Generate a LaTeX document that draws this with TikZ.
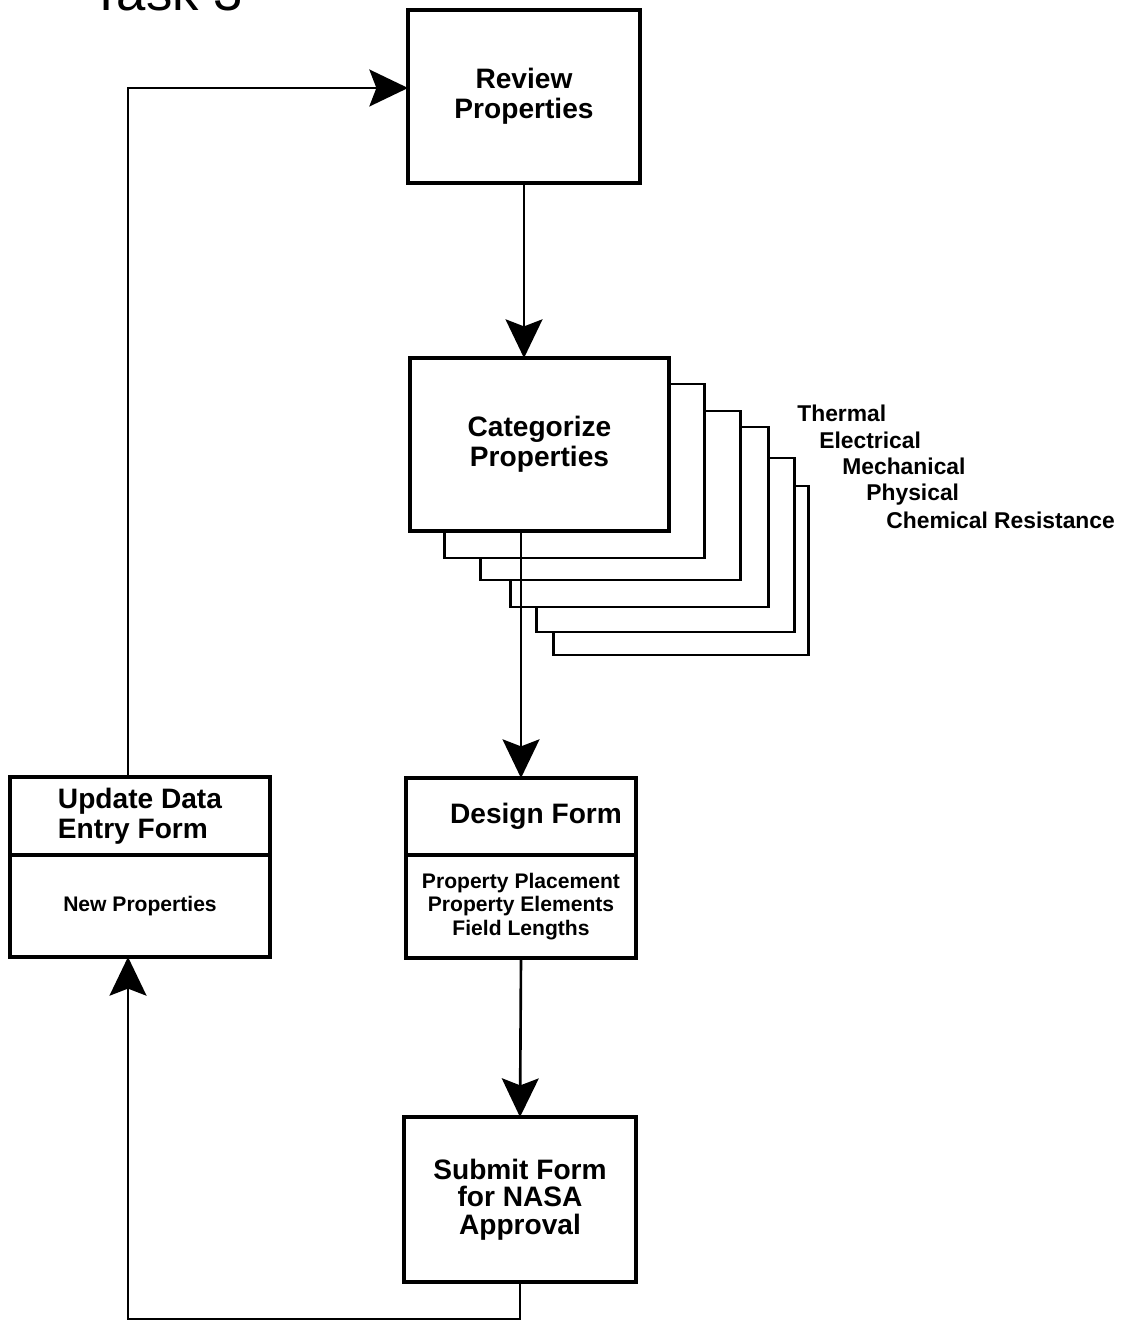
\documentclass[tikz,border=0pt]{standalone}
\usepackage{fontspec}
\setmainfont{Liberation Sans}
\usetikzlibrary{arrows.meta,positioning}

\tikzset{
    box/.style={draw, line width=2pt, fill=white, align=center, inner sep=0pt, outer sep=0pt, font=\bfseries\fontsize{16}{17}\selectfont},
    small/.style={font=\bfseries\fontsize{12}{13.6}\selectfont},
    flow/.style={line width=1.5pt, -{Stealth[length=22pt,width=21pt,inset=4pt]}},
    tag/.style={anchor=base west, inner sep=0pt, font=\bfseries\fontsize{13}{14}\selectfont},
    sheet/.style={line width=1.7pt, fill=white}
}

\begin{document}
\begin{tikzpicture}[x=0.02cm,y=-0.02cm]

                    \useasboundingbox (0,0) rectangle (1142,1327);

                    \node[anchor=base west, inner sep=0pt, font=\fontsize{30}{30}\selectfont] (title) at (90,11) {Task 3};

                    %%boxes
                    \node[box, minimum width=4.64cm, minimum height=3.46cm] (review) at (524,96.5) {Review\\Properties};

                    %%sheets behind
                    \foreach \l/\t/\r/\b in {553/486/808/655, 536/458/794/632, 510/427/768/607, 480/411/740/580, 444/384/704/558}
                        \draw[sheet] (\l,\t) rectangle (\r,\b);

                    \node[box, minimum width=5.18cm, minimum height=3.46cm] (categorize) at (539.5,444.5) {Categorize\\Properties};

                    \node[box, minimum width=4.6cm, minimum height=1.54cm] (designhead) at (521,816.5) {\hspace{0.6cm}Design Form};
                    \node[box, small, minimum width=4.6cm, minimum height=2.06cm] (designbody) [below=0pt of designhead] {Property Placement\\Property Elements\\Field Lengths};

                    \node[box, minimum width=4.64cm, minimum height=3.3cm, font=\bfseries\fontsize{16}{15.5}\selectfont] (submit) at (520,1199.5) {Submit Form\\for NASA\\Approval};

                    \node[box, align=left, minimum width=5.2cm, minimum height=1.56cm] (updatehead) at (140,816) {Update Data\\Entry Form};
                    \node[box, small, minimum width=5.2cm, minimum height=2.04cm] (updatebody) [below=0pt of updatehead] {New Properties};

                    %%categories
                    \node[tag] (thermal) at (797,421) {Thermal};
                    \node[tag] (electrical) at (819,448) {Electrical};
                    \node[tag] (mechanical) at (842,474) {Mechanical};
                    \node[tag] (physical) at (866,500) {Physical};
                    \node[tag] (chemical) at (886,528) {Chemical Resistance};

                    %%connectors
                    \draw[flow] (review.south) -- (review.south |- categorize.north);
                    \draw[flow] (categorize.south -| designhead.north) -- (designhead.north);
                    \draw[flow] (designbody.south) -- (submit.north);
                    \draw[flow] (submit.south) -- ++(0,37) -| ([xshift=-0.24cm]updatebody.south);
                    \draw[flow] ([xshift=-0.24cm]updatehead.north) |- ([yshift=0.17cm]review.west);

\end{tikzpicture}
\end{document}
